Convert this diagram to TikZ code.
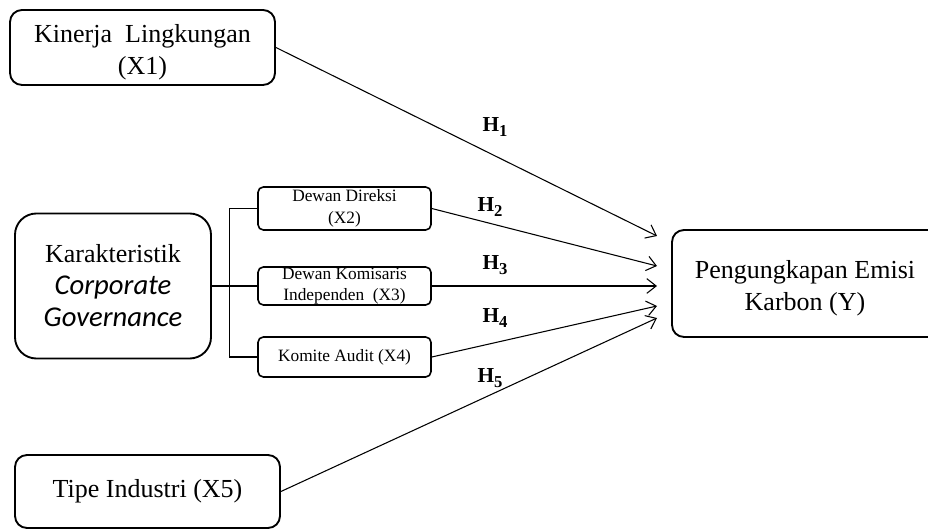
\documentclass[tikz,border=0pt]{standalone}
\usepackage{fontspec}
\setmainfont{Liberation Serif}
\newfontfamily\cgfont{Carlito}
\usepackage{tikz}
\usetikzlibrary{arrows.meta,positioning,calc}
\newcommand{\hyp}[1]{H\raisebox{-3.5pt}{\fontsize{12.5}{12.5}\selectfont #1}}
\tikzset{
block/.style = {draw, fill=white, rectangle, rounded corners=9pt, line width=1.4pt, align=center, inner sep=2pt, font=\fontsize{19.5}{24}\selectfont},
subblock/.style = {draw, fill=white, rectangle, rounded corners=4pt, line width=1.2pt, align=center, inner sep=0pt, minimum width=129.75pt, font=\fontsize{13}{16}\selectfont},
hlabel/.style = {font=\fontsize{16}{19}\selectfont\bfseries},
link/.style = {line width=0.8pt, -{Straight Barb[length=7pt,width=11pt,line width=0.8pt]}},
}
\begin{document}
\begin{tikzpicture}[x=0.75pt, y=-0.75pt]
    \useasboundingbox (0,0) rectangle (928,530);
    % left side
    \node [block, minimum width=198.75pt, minimum height=56.25pt, text height=45pt] (x1) at (142.5,47.5) {Kinerja~ Lingkungan\\(X1)};
    \node [block, rounded corners=16pt, minimum width=147pt, minimum height=108.75pt] (cg) at (113,286) {Karakteristik\\{\cgfont\fontsize{21.5}{24}\selectfont\itshape Corporate}\\{\cgfont\fontsize{21.5}{24}\selectfont\itshape Governance}};
    \node [block, minimum width=198.75pt, minimum height=54.75pt] (x5) at (147.5,491.5) {Tipe Industri (X5)};
    % sub variables
    \node [subblock, minimum height=32.25pt] (x2) at (344.5,208.5) {Dewan Direksi\\(X2)};
    \node [subblock, minimum height=28.5pt] (x3) at (344.5,286) {Dewan Komisaris\\Independen~ (X3)};
    \node [subblock, minimum height=30pt] (x4) at (344.5,357) {Komite Audit (X4)};
    % dependent
    \node [block, minimum width=217.5pt, minimum height=80.25pt, text height=45pt] (y) at (817,283.5) {Pengungkapan Emisi\hspace*{18pt}\\Karbon (Y)\hspace*{18pt}};
    \coordinate (t1) at (657,236);
    \coordinate (t2) at (657,266);
    \coordinate (t3) at (657,286);
    \coordinate (t4) at (657,306);
    \coordinate (t5) at (657,318);
    % bracket
    \draw [line width=0.8pt] (cg.east) -- (x3.west);
    \draw [line width=0.8pt] (x2.west) -- ++(-28,0) |- (x4.west);
    % hypotheses
    \draw [link] (x1.east) -- (t1);
    \draw [link] (x2.east) -- (t2);
    \draw [link] (x3.east) -- (t3);
    \draw [link] (x4.east) -- (t4);
    \draw [link] (x5.east) -- (t5);
    \node [hlabel] (h1) at (495,127) {\hyp{1}};
    \node [hlabel] (h2) at (490,207) {\hyp{2}};
    \node [hlabel] (h3) at (495,265) {\hyp{3}};
    \node [hlabel] (h4) at (495,318) {\hyp{4}};
    \node [hlabel] (h5) at (490,378) {\hyp{5}};
\end{tikzpicture}
\end{document}
